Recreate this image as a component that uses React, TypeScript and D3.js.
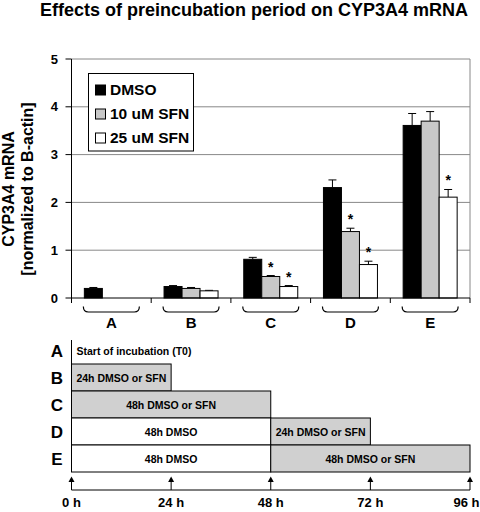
import React from "react";
import * as d3 from "d3";

const groups = ["A", "B", "C", "D", "E"];
const seriesNames = ["DMSO", "10 uM SFN", "25 uM SFN"];
const seriesFill = ["#000000", "#c8c8c8", "#ffffff"];
const dmso = [0.2, 0.24, 0.81, 2.31, 3.61];
const sfn10 = [null, 0.2, 0.45, 1.39, 3.7];
const sfn25 = [null, 0.15, 0.24, 0.7, 2.11];
const dmsoErr = [0.02, 0.02, 0.04, 0.16, 0.25];
const sfn10Err = [null, 0.02, 0.02, 0.07, 0.2];
const sfn25Err = [null, 0.01, 0.02, 0.07, 0.16];
const sfn10Sig = [false, false, true, true, false];
const sfn25Sig = [false, false, true, true, true];
const yTicks = [0, 1, 2, 3, 4, 5];

const segRows = ["B", "C", "D", "D", "E", "E"];
const segStart = [0, 0, 0, 48, 0, 48];
const segEnd = [24, 48, 48, 72, 48, 96];
const segLabel = ["24h DMSO or SFN", "48h DMSO or SFN", "48h DMSO", "24h DMSO or SFN", "48h DMSO", "48h DMSO or SFN"];
const segShaded = [true, true, false, true, false, true];
const timeTicks = [0, 24, 48, 72, 96];
const rowALabel = "Start of incubation (T0)";

const FONT = "'Liberation Sans', Arial, sans-serif";

export default function App() {
  const W = 480, H = 512;
  const x0 = 71.5, x1 = 470;
  const y = d3.scaleLinear().domain([0, 5]).range([298, 59]);
  const x = d3.scaleBand<string>().domain(groups).range([x0, x1]);
  const barW = 18;
  const inner = d3.scaleBand<string>().domain(seriesNames).range([-barW * 1.5, barW * 1.5]);
  const values = [dmso, sfn10, sfn25];
  const errs = [dmsoErr, sfn10Err, sfn25Err];
  const sigs = [null, sfn10Sig, sfn25Sig];

  const t = d3.scaleLinear().domain([0, 96]).range([x0, x1]);
  const rowY = d3.scaleBand<string>().domain(groups).range([337, 472]);

  const bars: any[] = [];
  groups.forEach((g, gi) => {
    const cx = (x(g) as number) + x.bandwidth() / 2;
    seriesNames.forEach((s, si) => {
      const v = values[si][gi];
      if (v == null) return;
      const bx = cx + (inner(s) as number);
      const e = errs[si][gi] as number;
      const top = y(v);
      const etop = y(v + e);
      const mid = bx + barW / 2;
      bars.push(
        <g key={g + s}>
          <line x1={mid} x2={mid} y1={top} y2={etop} stroke="#000" strokeWidth={1} />
          <line x1={mid - 4} x2={mid + 4} y1={etop} y2={etop} stroke="#000" strokeWidth={1} />
          <rect x={bx} y={top} width={barW} height={y(0) - top} fill={seriesFill[si]} stroke="#000" strokeWidth={1} />
          {sigs[si] && (sigs[si] as boolean[])[gi] && (
            <text x={mid} y={etop - 4} textAnchor="middle" fontSize={14} fontWeight="bold" fontFamily={FONT}>*</text>
          )}
        </g>
      );
    });
  });

  return (
    <svg width={W} height={H} style={{ position: "absolute", left: 0, top: 0, background: "#fff" }} fontFamily={FONT}>
      <rect x={0} y={0} width={W} height={H} fill="#fff" />
      <text x={254} y={16} textAnchor="middle" fontSize={18} fontWeight="bold">
        Effects of preincubation period on CYP3A4 mRNA
      </text>

      {/* grid */}
      {yTicks.filter((v) => v > 0).map((v) => (
        <line key={"g" + v} x1={x0} x2={x1} y1={y(v)} y2={y(v)} stroke="#888" strokeWidth={1} />
      ))}
      <line x1={x1} x2={x1} y1={y(5)} y2={y(0)} stroke="#888" strokeWidth={1} />

      {/* y axis */}
      <line x1={x0} x2={x0} y1={y(5)} y2={y(0) + 5} stroke="#000" strokeWidth={1} />
      {yTicks.map((v) => (
        <g key={"t" + v}>
          <line x1={x0 - 6} x2={x0} y1={y(v)} y2={y(v)} stroke="#000" strokeWidth={1} />
          <text x={58} y={y(v) + 4.5} textAnchor="end" fontSize={13} fontWeight="bold">{v}</text>
        </g>
      ))}
      <text transform={`translate(14,189) rotate(-90)`} textAnchor="middle" fontSize={16} fontWeight="bold">CYP3A4 mRNA</text>
      <text transform={`translate(33,189) rotate(-90)`} textAnchor="middle" fontSize={16} fontWeight="bold">[normalized to B-actin]</text>

      {bars}

      {/* x axis */}
      <line x1={x0} x2={x1} y1={y(0)} y2={y(0)} stroke="#000" strokeWidth={1} />
      {groups.concat(["end"]).map((g, i) => {
        const bx = i < groups.length ? (x(g) as number) : x1;
        return <line key={"s" + i} x1={bx} x2={bx} y1={y(0)} y2={y(0) + 5} stroke="#000" strokeWidth={1} />;
      })}
      {groups.map((g) => {
        const cx = (x(g) as number) + x.bandwidth() / 2;
        const a = cx - 28, b = cx + 28, ya = 306.5, yb = 312;
        return (
          <g key={"br" + g}>
            <path d={`M${a},${ya} Q${a},${yb} ${a + 5},${yb} L${b - 5},${yb} Q${b},${yb} ${b},${ya}`} fill="none" stroke="#000" strokeWidth={1.2} />
            <text x={cx} y={328} textAnchor="middle" fontSize={15} fontWeight="bold">{g}</text>
          </g>
        );
      })}

      {/* legend */}
      <rect x={88.5} y={73.5} width={105} height={77.5} fill="#fff" stroke="#000" strokeWidth={1} />
      {seriesNames.map((s, i) => (
        <g key={"l" + s}>
          <rect x={95.5} y={85 + i * 24} width={10} height={10} fill={seriesFill[i]} stroke="#000" strokeWidth={1} />
          <text x={110} y={95 + i * 24} fontSize={15.5} fontWeight="bold">{s}</text>
        </g>
      ))}

      {/* timeline */}
      <line x1={x0} x2={x0} y1={340} y2={472} stroke="#000" strokeWidth={1} />
      {groups.map((g) => (
        <text key={"rl" + g} x={57} y={(rowY(g) as number) + rowY.bandwidth() / 2 + 6} textAnchor="middle" fontSize={17} fontWeight="bold">{g}</text>
      ))}
      <text x={76.5} y={(rowY("A") as number) + rowY.bandwidth() / 2 + 4} fontSize={10.5} fontWeight="bold">{rowALabel}</text>
      {segRows.map((r, i) => {
        const sx = t(segStart[i]), ex = t(segEnd[i]);
        const ry = rowY(r) as number;
        return (
          <g key={"seg" + i}>
            <rect x={sx} y={ry} width={ex - sx} height={rowY.bandwidth()} fill={segShaded[i] ? "#d0d0d0" : "#fff"} stroke="#000" strokeWidth={1} />
            <text x={(sx + ex) / 2} y={ry + rowY.bandwidth() / 2 + 4} textAnchor="middle" fontSize={10.5} fontWeight="bold">{segLabel[i]}</text>
          </g>
        );
      })}
      <line x1={x0} x2={x1} y1={490} y2={490} stroke="#000" strokeWidth={1} />
      {timeTicks.map((h, i) => {
        const tx = t(h);
        const last = i === timeTicks.length - 1;
        return (
          <g key={"tt" + h}>
            <line x1={tx} x2={tx} y1={481} y2={490} stroke="#000" strokeWidth={1} />
            <path d={`M${tx},476.5 L${tx - 3},482 L${tx + 3},482 Z`} fill="#000" />
            <text x={last ? 479.5 : tx} y={507} textAnchor={last ? "end" : "middle"} fontSize={13} fontWeight="bold">{h} h</text>
          </g>
        );
      })}
    </svg>
  );
}
